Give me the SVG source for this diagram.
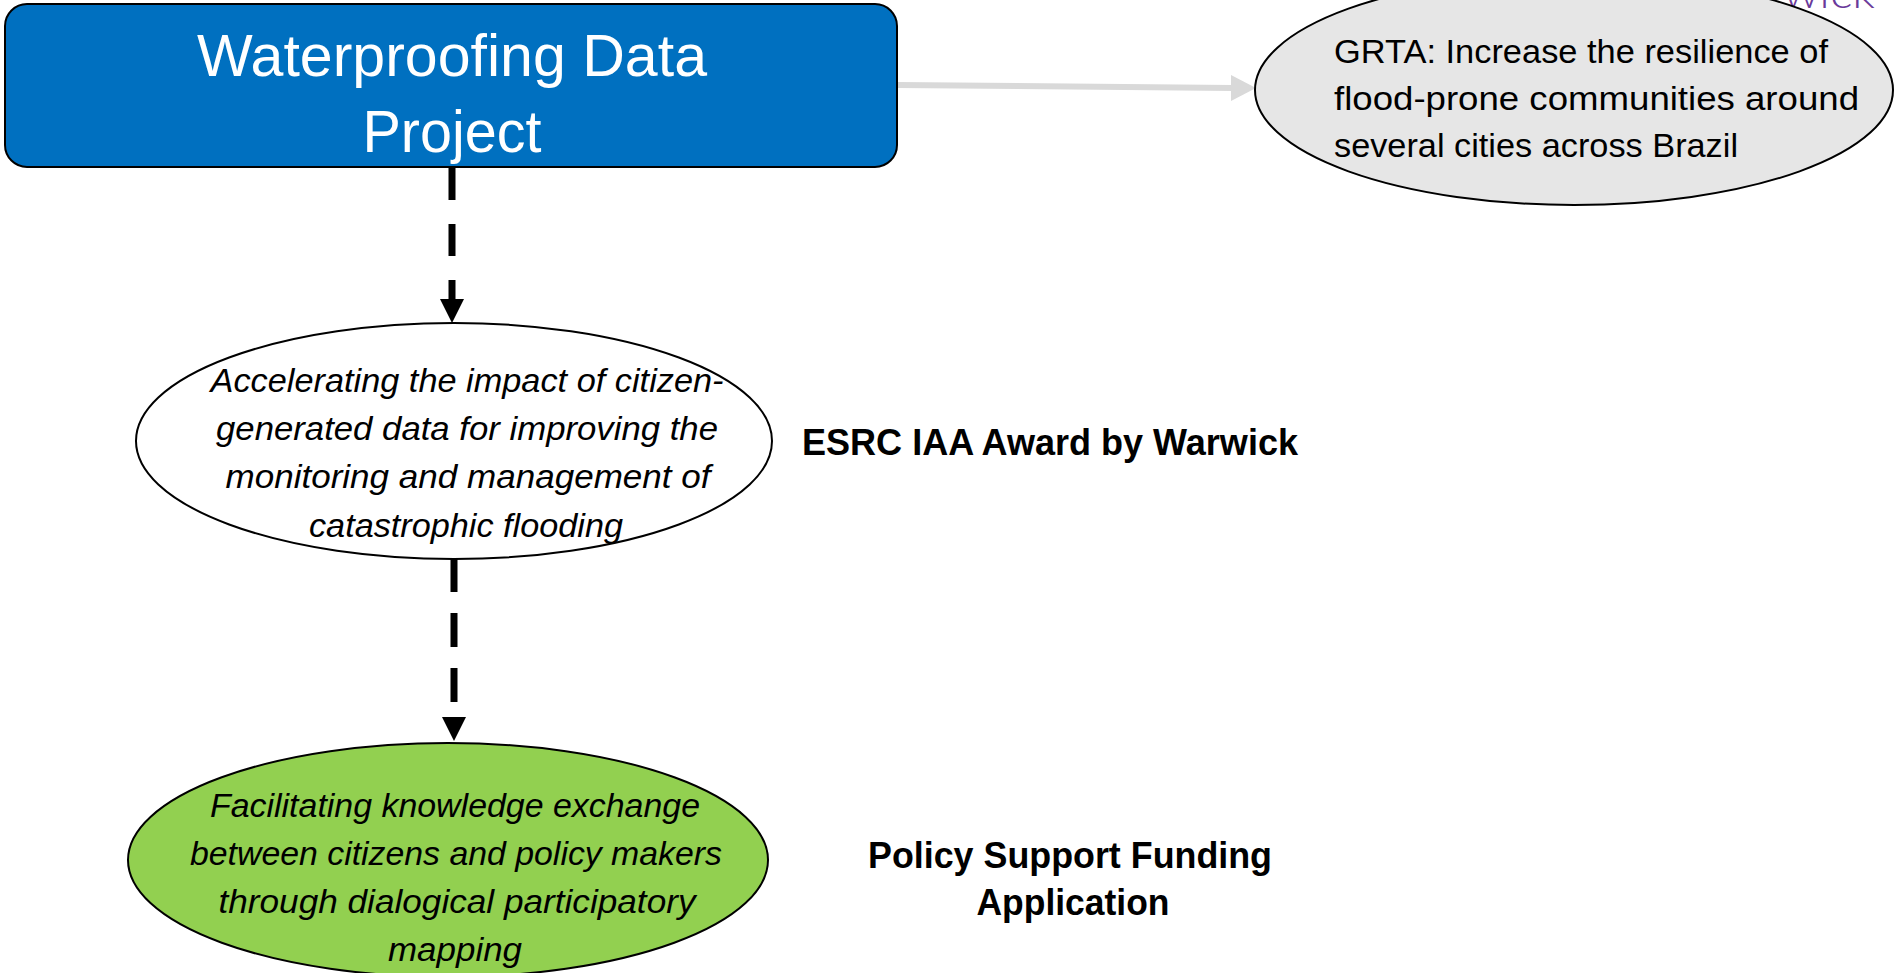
<svg xmlns="http://www.w3.org/2000/svg" width="1896" height="973" viewBox="0 0 1896 973">
  <style>
    .node { stroke: #000000; stroke-width: 2; }
    .lbl { font-family: "Liberation Sans", Arial, sans-serif; fill: #000000; }
    .it { font-style: italic; font-size: 34px; }
    .bold { font-weight: bold; font-size: 36px; }
    .dash { stroke: #000000; stroke-width: 7; fill: none; }
  </style>
  <rect width="1896" height="973" fill="#ffffff"/>

  <text x="1783" y="8" font-family="Lato, 'Liberation Sans', sans-serif" font-weight="300" font-size="44" fill="#6A3A9A" textLength="92" lengthAdjust="spacingAndGlyphs">wick</text>

  <g id="connectors">
    <line x1="897" y1="85" x2="1233" y2="88" stroke="#D9D9D9" stroke-width="6"/>
    <polygon points="1231,75 1256,88 1231,101" fill="#D9D9D9"/>
    <line class="dash" x1="452" y1="168" x2="452" y2="299" stroke-dasharray="32 24"/>
    <polygon points="440,299 464,299 452,323" fill="#000000"/>
    <line class="dash" x1="454" y1="558" x2="454" y2="718" stroke-dasharray="34 21"/>
    <polygon points="442,717 466,717 454,741" fill="#000000"/>
  </g>

  <g id="project">
    <rect class="node" x="5" y="4" width="892" height="163" rx="22" ry="22" fill="#0070C0"/>
    <text x="452" y="76" font-family="'Liberation Sans', Arial, sans-serif" font-size="59" fill="#ffffff" text-anchor="middle" textLength="510" lengthAdjust="spacingAndGlyphs">Waterproofing Data</text>
    <text x="452" y="152" font-family="'Liberation Sans', Arial, sans-serif" font-size="59" fill="#ffffff" text-anchor="middle" textLength="179" lengthAdjust="spacingAndGlyphs">Project</text>
  </g>

  <g id="grta">
    <ellipse class="node" cx="1574" cy="90" rx="319" ry="115" fill="#E6E6E6"/>
    <text class="lbl" x="1334" y="63" font-size="34" textLength="494" lengthAdjust="spacingAndGlyphs">GRTA: Increase the resilience of</text>
    <text class="lbl" x="1334" y="110" font-size="34" textLength="525" lengthAdjust="spacingAndGlyphs">flood-prone communities around</text>
    <text class="lbl" x="1334" y="157" font-size="34" textLength="404" lengthAdjust="spacingAndGlyphs">several cities across Brazil</text>
  </g>

  <g id="accelerating">
    <ellipse class="node" cx="454" cy="441" rx="318" ry="118" fill="#ffffff"/>
    <text class="lbl it" x="467" y="392" text-anchor="middle" textLength="513" lengthAdjust="spacingAndGlyphs">Accelerating the impact of citizen-</text>
    <text class="lbl it" x="467" y="440" text-anchor="middle" textLength="502" lengthAdjust="spacingAndGlyphs">generated data for improving the</text>
    <text class="lbl it" x="468" y="488" text-anchor="middle" textLength="485" lengthAdjust="spacingAndGlyphs">monitoring and management of</text>
    <text class="lbl it" x="466" y="537" text-anchor="middle" textLength="314" lengthAdjust="spacingAndGlyphs">catastrophic flooding</text>
  </g>

  <g id="esrc-label">
    <text class="lbl bold" x="802" y="455" textLength="496" lengthAdjust="spacingAndGlyphs">ESRC IAA Award by Warwick</text>
  </g>

  <g id="facilitating">
    <ellipse class="node" cx="448" cy="860" rx="320" ry="117" fill="#92D050"/>
    <text class="lbl it" x="455" y="817" text-anchor="middle" textLength="490" lengthAdjust="spacingAndGlyphs">Facilitating knowledge exchange</text>
    <text class="lbl it" x="456" y="865" text-anchor="middle" textLength="532" lengthAdjust="spacingAndGlyphs">between citizens and policy makers</text>
    <text class="lbl it" x="457" y="913" text-anchor="middle" textLength="477" lengthAdjust="spacingAndGlyphs">through dialogical participatory</text>
    <text class="lbl it" x="455" y="961" text-anchor="middle" textLength="134" lengthAdjust="spacingAndGlyphs">mapping</text>
  </g>

  <g id="policy-label">
    <text class="lbl bold" x="1070" y="868" text-anchor="middle" textLength="404" lengthAdjust="spacingAndGlyphs">Policy Support Funding</text>
    <text class="lbl bold" x="1073" y="915" text-anchor="middle" textLength="193" lengthAdjust="spacingAndGlyphs">Application</text>
  </g>
</svg>
